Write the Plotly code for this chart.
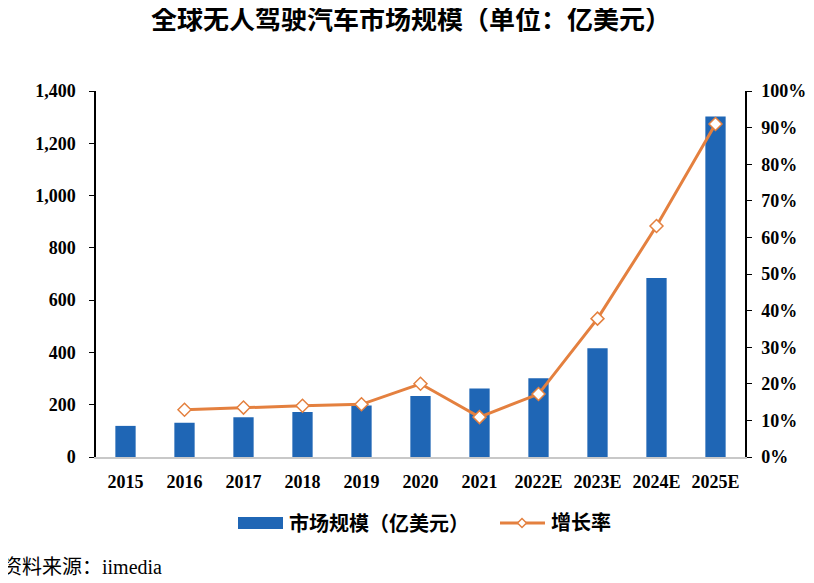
import plotly.graph_objects as go

categories = ["2015", "2016", "2017", "2018", "2019", "2020", "2021", "2022E", "2023E", "2024E", "2025E"]
market_size = [119, 131, 152, 172, 197, 233, 262, 301, 416, 685, 1302]
growth_rate = [None, 12.9, 13.5, 14.0, 14.4, 20.0, 10.9, 17.2, 37.8, 63.1, 91.0]
left_ticks = [0, 200, 400, 600, 800, 1000, 1200, 1400]
right_ticks = [0, 10, 20, 30, 40, 50, 60, 70, 80, 90, 100]
right_labels = [f"{v}%" for v in right_ticks]

BAR_COLOR = "#1F66B5"
LINE_COLOR = "#E4803F"
serif = "Liberation Serif, Times New Roman, serif"
cjk = "Liberation Serif, Noto Sans CJK SC, serif"

# page body has an 8px margin, so the figure is sized/offset to compensate
W, H = 806, 575
L, R, T, B = 88, 69, 83, 126
PW, PH = W - L - R, H - T - B


def px(ax):  # page pixel x -> paper x
    return (ax - 8 - L) / PW


def py(ay):  # page pixel y -> paper y
    return (H - B - (ay - 8)) / PH


fig = go.Figure()
fig.add_trace(go.Bar(
    x=categories, y=market_size, name="市场规模（亿美元）",
    marker=dict(color=BAR_COLOR, line=dict(width=0)),
    yaxis="y",
))
fig.add_trace(go.Scatter(
    x=categories, y=growth_rate, name="增长率", mode="lines+markers",
    line=dict(color=LINE_COLOR, width=3),
    marker=dict(symbol="diamond", size=10, color="white", line=dict(color=LINE_COLOR, width=1.5)),
    yaxis="y2",
))

# custom legend
cx, cy = px(522), py(523)
dx, dy = 4.5 / PW, 4.5 / PH
shapes = [
    dict(type="rect", xref="paper", yref="paper", x0=px(238), x1=px(283), y0=py(529), y1=py(517),
         fillcolor=BAR_COLOR, line=dict(width=0)),
    dict(type="line", xref="paper", yref="paper", x0=px(500), x1=px(545), y0=cy, y1=cy,
         line=dict(color=LINE_COLOR, width=3)),
    dict(type="path", xref="paper", yref="paper",
         path=f"M {cx-dx} {cy} L {cx} {cy+dy} L {cx+dx} {cy} L {cx} {cy-dy} Z",
         fillcolor="white", line=dict(color=LINE_COLOR, width=1.5)),
]
annotations = [
    dict(text="<b>市场规模（亿美元）</b>", xref="paper", yref="paper", x=px(287), y=cy,
         xanchor="left", yanchor="middle", showarrow=False,
         font=dict(family=cjk, size=20, color="black")),
    dict(text="<b>增长率</b>", xref="paper", yref="paper", x=px(549), y=cy,
         xanchor="left", yanchor="middle", showarrow=False,
         font=dict(family=cjk, size=20, color="black")),
    dict(text="资料来源：iimedia", xref="paper", yref="paper", x=px(0), y=py(567),
         xanchor="left", yanchor="middle", showarrow=False,
         font=dict(family=cjk, size=20, color="black")),
]

fig.update_layout(
    width=W, height=H,
    margin=dict(l=L, r=R, t=T, b=B, autoexpand=False),
    paper_bgcolor="white", plot_bgcolor="white",
    bargap=0.656,
    showlegend=False,
    title=dict(text="<b>全球无人驾驶汽车市场规模（单位：亿美元）</b>", x=0.5, xanchor="center",
               y=1 - 12 / H, yanchor="middle", font=dict(family=cjk, size=26, color="black")),
    xaxis=dict(type="category", range=[-0.5, len(categories) - 0.5], autorange=False,
               showline=True, linecolor="#C8C8C8", linewidth=1.5, ticks="",
               tickfont=dict(family=serif, size=18, color="black", weight="bold"),
               showgrid=False, automargin=False, ticklabelstandoff=8),
    yaxis=dict(range=[0, 1400], tickvals=left_ticks, tickformat=",d", showline=True,
               linecolor="black", linewidth=1.5, ticks="outside", ticklen=5, tickcolor="black",
               tickfont=dict(family=serif, size=18, color="black", weight="bold"),
               showgrid=False, zeroline=False, automargin=False, ticklabelstandoff=10),
    yaxis2=dict(range=[0, 100], tickvals=right_ticks, ticktext=right_labels, overlaying="y",
                side="right", showline=True, linecolor="black", linewidth=1.5, ticks="outside",
                ticklen=5, tickcolor="black",
                tickfont=dict(family=serif, size=18, color="black", weight="bold"),
                showgrid=False, zeroline=False, automargin=False, ticklabelstandoff=6),
    shapes=shapes,
    annotations=annotations,
)

fig.write_html("out.html")
